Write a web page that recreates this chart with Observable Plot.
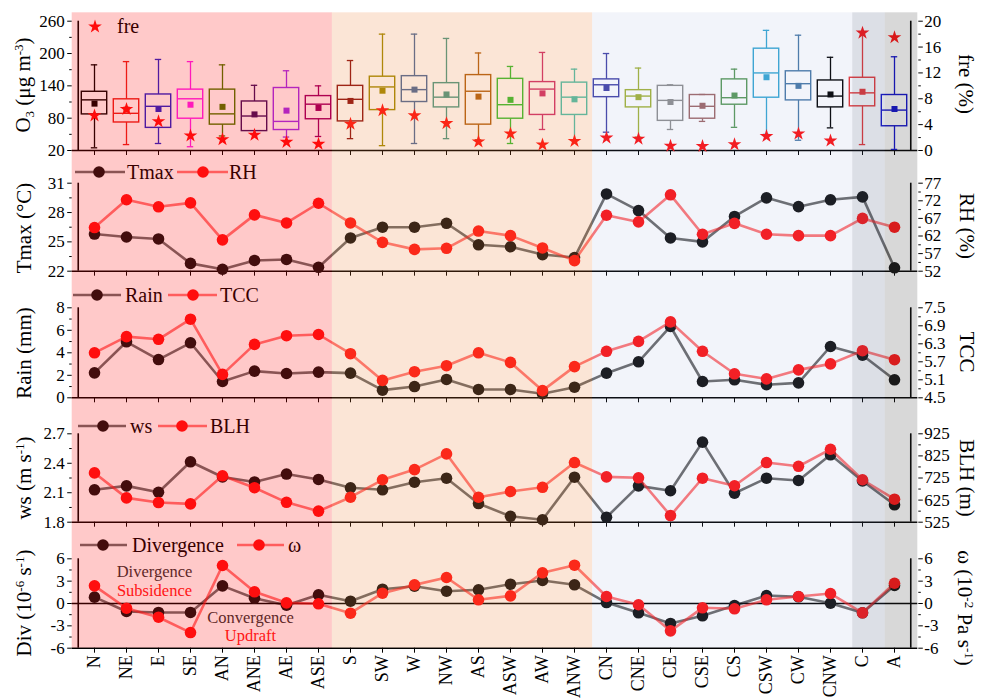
<!DOCTYPE html>
<html><head><meta charset="utf-8">
<script src="https://cdn.jsdelivr.net/npm/d3@7"></script>
<script src="https://cdn.jsdelivr.net/npm/@observablehq/plot@0.6"></script>
<style>
body{margin:0;background:#fff;}
#chart{position:relative;width:984px;height:700px;overflow:hidden;font-family:"Liberation Serif",serif;background:#fff;}
#chart > svg{position:absolute;left:0;top:0;}
.vl{position:absolute;white-space:nowrap;font-size:21px;color:#000;line-height:1;font-family:"Liberation Serif",serif;}
.vl sup,.vl sub{font-size:0.62em;}
.vl sup{vertical-align:0.55em;}
.vl sub{vertical-align:-0.25em;}
</style></head><body><div id="chart"></div>
<script>
// ---------------- data ----------------
const categories = ["N","NE","E","SE","AN","ANE","AE","ASE","S","SW","W","NW","AS","ASW","AW","ANW","CN","CNE","CE","CSE","CS","CSW","CW","CNW","C","A"];
const boxColors = ["#000000","#e8221c","#2222cc","#ff22ee","#4d7a00","#3d1060","#a030f0","#990066","#8b1010","#a08a00","#4a6a9a","#4a9a88","#b06010","#33c033","#cc3070","#44c4b4","#4444a8","#a4b438","#909090","#a06868","#5a9a5a","#38a8d4","#4a7aa8","#000000","#e83434","#1010cc"];
const o3High   = [179,185,189,185,179,141,168,140,187,236,236,228,201,176,202,171,200,173,142,124,171,243,234,193,239,194];
const o3Q3     = [129,115,124,133,133,111,136,121,140,157,158,145,160,153,147,146,152,132,140,123,152,209,167,150,155,123];
const o3Median = [114,89,102,116,88,84,74,106,115,138,133,119,130,105,134,119,142,121,113,102,118,164,144,121,127,95];
const o3Q1     = [87,72,62,79,68,56,58,78,74,95,110,100,68,79,86,86,119,100,75,79,105,118,113,100,102,65];
const o3Low    = [25,31,33,27,47,50,45,46,42,29,33,42,40,33,59,40,54,45,59,74,63,50,39,62,31,22];
const o3Mean   = [107,96,97,105,101,87,94,99,112,131,133,124,120,114,126,115,136,119,110,103,122,156,140,124,129,97];
const fre      = [5.4,6.4,4.5,2.3,1.7,2.4,1.3,1.0,4.1,6.2,5.4,4.2,1.35,2.6,0.9,1.45,1.96,1.8,0.7,0.67,0.93,2.2,2.6,1.5,18.2,17.5];
const tmax  = [25.8,25.5,25.3,22.8,22.2,23.1,23.2,22.4,25.4,26.5,26.5,26.9,24.7,24.5,23.7,23.4,29.9,28.2,25.4,25.0,27.6,29.5,28.6,29.3,29.6,22.35];
const rh    = [64.4,72.3,70.3,71.4,60.9,68.0,65.7,71.3,65.7,60.2,58.2,58.5,63.4,62.1,58.6,55.0,67.9,66.0,73.7,62.5,65.6,62.5,62.1,62.1,67.0,64.5];
const rain  = [2.22,4.98,3.4,4.89,1.45,2.37,2.16,2.28,2.19,0.68,1.0,1.63,0.74,0.74,0.36,0.94,2.19,3.2,6.34,1.45,1.6,1.16,1.33,4.56,3.79,1.6];
const tcc   = [6.0,6.54,6.45,7.12,5.28,6.28,6.57,6.61,5.97,5.08,5.37,5.57,6.0,5.68,4.74,5.54,6.05,6.38,7.03,6.05,5.3,5.13,5.43,5.63,6.07,5.77];
const ws    = [2.13,2.17,2.105,2.415,2.26,2.21,2.29,2.235,2.15,2.13,2.207,2.248,1.99,1.86,1.825,2.258,1.85,2.17,2.12,2.615,2.095,2.248,2.225,2.486,2.22,1.977];
const blh   = [748,635,614,608,735,681,615,575,638,717,763,834,638,664,683,795,730,726,555,724,690,795,778,855,717,629];
const divergence = [0.85,-1.07,-1.2,-1.2,2.37,0.71,-0.23,1.17,0.31,1.92,2.32,1.65,1.84,2.59,3.09,2.51,0.13,-1.25,-2.68,-1.65,-0.27,1.07,0.9,0.04,-1.25,2.42];
const omega = [2.37,-0.63,-1.84,-3.9,5.1,1.57,0.09,-0.04,-1.3,1.38,2.5,3.49,0.5,1.03,4.12,5.14,0.94,-0.17,-3.67,-0.58,-0.71,0.5,0.94,1.34,-1.25,2.72];

const regionFrom = ["N","S","CN","C","A"];
const regionTo   = ["ASE","ANW","CNW","C","A"];
const regionFill = ["rgba(255,0,0,0.21)","rgba(235,125,50,0.2)","rgba(125,145,205,0.1)","rgba(80,95,130,0.2)","rgba(60,60,60,0.2)"];

const annoText  = ["Divergence","Subsidence","Convergence","Updraft"];
const annoCat   = ["E","E","ANE","ANE"];
const annoValue = [4.2,1.65,-1.9,-4.3];
const annoColor = ["#333333","#ff2020","#333333","#ff2020"];

// ---------------- layout ----------------
const W = 984, H = 700;
const xLeft = 71.7, xRight = 917.3;
const bw = (xRight - xLeft) / categories.length;
const chart = document.getElementById("chart");
const rows = categories.map((c, i) => ({
  cat: c, color: boxColors[i], high: o3High[i], q3: o3Q3[i], median: o3Median[i], q1: o3Q1[i], low: o3Low[i], mean: o3Mean[i], fre: fre[i],
  tmax: tmax[i], rh: rh[i], rain: rain[i], tcc: tcc[i], ws: ws[i], blh: blh[i], div: divergence[i], omega: omega[i]
}));
const intFmt = v => String(Math.round(v));
const f1 = v => (Math.round(v * 10) / 10).toFixed(1);
const baseStyle = {background: "none", overflow: "visible", fontFamily: "Liberation Serif, serif", fontSize: "17px", color: "#000"};

function panel(cfg) {
  const s = d3.scaleLinear(cfg.sDomain, cfg.yDomain);
  const last = !!cfg.last;
  const marks = [
    Plot.axisY(cfg.yTicks, {anchor: "left", tickSize: 4.5, tickPadding: 3, label: null, tickFormat: cfg.yFmt, fontSize: 17}),
    Plot.axisY(cfg.yMinor, {anchor: "left", tickSize: 2.5, label: null, tickFormat: () => ""}),
    Plot.axisY(cfg.sTicks.map(s), {anchor: "right", tickSize: 4.5, tickPadding: 2, label: null, tickFormat: d => cfg.sFmt(s.invert(d)), fontSize: 17}),
    Plot.axisY(cfg.sMinor.map(s), {anchor: "right", tickSize: 2.5, label: null, tickFormat: () => ""}),
    Plot.axisX({tickSize: 5, tickPadding: 2, label: null, tickFormat: last ? (d => d) : (() => ""), tickRotate: last ? -90 : 0, fontSize: 18}),
    Plot.ruleY([cfg.yDomain[0]], {stroke: "#000", strokeWidth: 1.6}),
    Plot.ruleX([categories[0]], {dx: -bw / 2, stroke: "#000", strokeWidth: 1.6}),
    Plot.ruleX([categories[categories.length - 1]], {dx: bw / 2, stroke: "#000", strokeWidth: 1.6}),
    ...cfg.marks(s)
  ];
  const svg = Plot.plot({
    width: W, height: H,
    marginLeft: xLeft, marginRight: W - xRight, marginTop: cfg.top, marginBottom: H - cfg.bottom,
    x: {type: "band", domain: categories, padding: 0},
    y: {type: "linear", domain: cfg.yDomain},
    color: {type: "identity"},
    style: baseStyle,
    marks
  });
  chart.appendChild(svg);
}

function pairMarks(k1, k2) {
  return s => [
    Plot.line(rows, {x: "cat", y: k1, stroke: "#000", strokeOpacity: 0.58, strokeWidth: 2.6}),
    Plot.dot(rows, {x: "cat", y: k1, r: 5.8, fill: "#111"}),
    Plot.line(rows, {x: "cat", y: d => s(d[k2]), stroke: "#ff1a1a", strokeOpacity: 0.6, strokeWidth: 2.6}),
    Plot.dot(rows, {x: "cat", y: d => s(d[k2]), r: 5.8, fill: "#ff1414"})
  ];
}

// Panel 1: O3 boxplots + fre
panel({
  top: 20.7, bottom: 150, yDomain: [20, 260], yTicks: [20, 80, 140, 200, 260], yMinor: [50, 110, 170, 230], yFmt: intFmt,
  sDomain: [0, 20], sTicks: [0, 4, 8, 12, 16, 20], sMinor: [2, 6, 10, 14, 18], sFmt: intFmt,
  marks: s => [
    Plot.ruleX(rows, {x: "cat", y1: "low", y2: "q1", stroke: "color", strokeWidth: 1.3}),
    Plot.ruleX(rows, {x: "cat", y1: "q3", y2: "high", stroke: "color", strokeWidth: 1.3}),
    Plot.tickY(rows, {x: "cat", y: "high", stroke: "color", strokeWidth: 1.3, insetLeft: 12.8, insetRight: 12.8}),
    Plot.tickY(rows, {x: "cat", y: "low", stroke: "color", strokeWidth: 1.3, insetLeft: 12.8, insetRight: 12.8}),
    Plot.barY(rows, {x: "cat", y1: "q1", y2: "q3", fill: "none", stroke: "color", strokeWidth: 1.4, insetLeft: 3.3, insetRight: 3.3}),
    Plot.tickY(rows, {x: "cat", y: "median", stroke: "color", strokeWidth: 1.4, insetLeft: 3.3, insetRight: 3.3}),
    Plot.dot(rows, {x: "cat", y: "mean", symbol: "square", fill: "color", r: 3.4}),
    Plot.dot(rows, {x: "cat", y: d => s(d.fre), symbol: "star", fill: "#ff1010", r: 4.3})
  ]
});
// Panel 2: Tmax + RH
panel({
  top: 182.7, bottom: 270.7, yDomain: [22, 31], yTicks: [22, 25, 28, 31], yMinor: [23.5, 26.5, 29.5], yFmt: intFmt,
  sDomain: [52, 77], sTicks: [52, 57, 62, 67, 72, 77], sMinor: [54.5, 59.5, 64.5, 69.5, 74.5], sFmt: intFmt,
  marks: pairMarks("tmax", "rh")
});
// Panel 3: Rain + TCC
panel({
  top: 307.3, bottom: 397.3, yDomain: [0, 8], yTicks: [0, 2, 4, 6, 8], yMinor: [1, 3, 5, 7], yFmt: intFmt,
  sDomain: [4.5, 7.5], sTicks: [4.5, 5.1, 5.7, 6.3, 6.9, 7.5], sMinor: [4.8, 5.4, 6.0, 6.6, 7.2], sFmt: f1,
  marks: pairMarks("rain", "tcc")
});
// Panel 4: ws + BLH
panel({
  top: 433.3, bottom: 521.7, yDomain: [1.8, 2.7], yTicks: [1.8, 2.1, 2.4, 2.7], yMinor: [1.95, 2.25, 2.55], yFmt: f1,
  sDomain: [525, 925], sTicks: [525, 625, 725, 825, 925], sMinor: [575, 675, 775, 875], sFmt: intFmt,
  marks: pairMarks("ws", "blh")
});
// Panel 5: Divergence + omega
panel({
  top: 558.3, bottom: 647.7, yDomain: [-6, 6], yTicks: [-6, -3, 0, 3, 6], yMinor: [-4.5, -1.5, 1.5, 4.5], yFmt: intFmt,
  sDomain: [-6, 6], sTicks: [-6, -3, 0, 3, 6], sMinor: [-4.5, -1.5, 1.5, 4.5], sFmt: intFmt, last: true,
  marks: s => [
    Plot.ruleY([0], {stroke: "#000", strokeWidth: 1.3}),
    Plot.text(annoText, {x: (d, i) => annoCat[i], y: (d, i) => annoValue[i], text: d => d, fill: (d, i) => annoColor[i], fontSize: 16.5, dx: -4}),
    ...pairMarks("div", "omega")(s)
  ]
});

// ---------------- legends ----------------
const leg = d3.create("svg").attr("width", W).attr("height", H).style("font-family", "Liberation Serif, serif");
function legendEntry(y, x0, x1, cx, color, lineOp, tx, label) {
  leg.append("line").attr("x1", x0).attr("x2", x1).attr("y1", y).attr("y2", y).attr("stroke", color).attr("stroke-opacity", lineOp).attr("stroke-width", 2.6);
  leg.append("circle").attr("cx", cx).attr("cy", y).attr("r", 5.8).attr("fill", color === "#000" ? "#111" : "#ff1414");
  leg.append("text").attr("x", tx).attr("y", y + 6.5).attr("font-size", 20).attr("fill", "#000").text(label);
}
leg.append("path").attr("d", d3.symbol(d3.symbolStar, 4.3 * 4.3 * Math.PI)()).attr("transform", "translate(95,26.7)").attr("fill", "#ff1010");
leg.append("text").attr("x", 117).attr("y", 33).attr("font-size", 20).text("fre");
legendEntry(172, 75, 125, 99, "#000", 0.58, 127, "Tmax");
legendEntry(172, 177, 228, 203, "#ff1a1a", 0.6, 229, "RH");
legendEntry(295, 73, 121, 97, "#000", 0.58, 125, "Rain");
legendEntry(295, 168, 217, 193, "#ff1a1a", 0.6, 220, "TCC");
legendEntry(426, 78, 126, 103, "#000", 0.58, 130, "ws");
legendEntry(426, 158, 207, 182, "#ff1a1a", 0.6, 210, "BLH");
legendEntry(545, 80, 127, 103, "#000", 0.58, 132, "Divergence");
legendEntry(545, 237, 284, 259, "#ff1a1a", 0.6, 288, "ω");
chart.appendChild(leg.node());

// ---------------- axis titles ----------------
function vlabel(html, cx, cy, rot) {
  const d = document.createElement("div");
  d.className = "vl";
  d.innerHTML = html;
  d.style.left = cx + "px";
  d.style.top = cy + "px";
  d.style.transform = `translate(-50%,-50%) rotate(${rot}deg)`;
  chart.appendChild(d);
}
vlabel("O<sub>3</sub> (μg m<sup>-3</sup>)", 24, 85, -90);
vlabel("Tmax (°C)", 24, 228, -90);
vlabel("Rain (mm)", 24, 353, -90);
vlabel("ws (m s<sup>-1</sup>)", 24, 478, -90);
vlabel("Div (10<sup>-6</sup> s<sup>-1</sup>)", 24, 603, -90);
vlabel("fre (%)", 965, 84, 90);
vlabel("RH (%)", 966, 226, 90);
vlabel("TCC", 966, 352, 90);
vlabel("BLH (m)", 966, 478, 90);
vlabel("ω (10<sup>-2</sup> Pa s<sup>-1</sup>)", 965, 608, 90);

// ---------------- shaded regions (translucent, on top) ----------------
const regions = regionFrom.map((f, i) => ({from: f, to: regionTo[i], fill: regionFill[i]}));
const overlay = Plot.plot({
  width: W, height: H,
  marginLeft: xLeft, marginRight: W - xRight, marginTop: 12.3, marginBottom: H - 647.7,
  x: {type: "linear", domain: [0, categories.length], axis: null},
  y: {type: "linear", domain: [0, 1], axis: null},
  color: {type: "identity"},
  style: {...baseStyle, pointerEvents: "none"},
  marks: [
    Plot.rect(regions, {x1: d => categories.indexOf(d.from), x2: d => categories.indexOf(d.to) + 1, y1: () => 0, y2: () => 1, fill: "fill"})
  ]
});
chart.appendChild(overlay);
</script>
</body></html>
